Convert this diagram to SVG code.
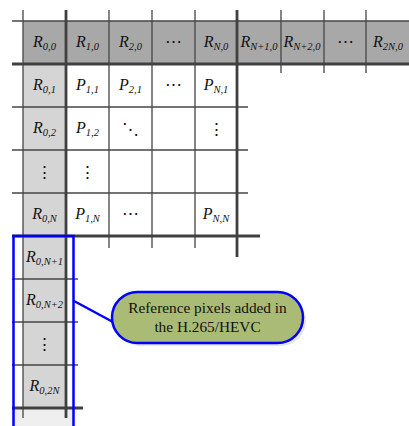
<svg xmlns="http://www.w3.org/2000/svg" width="409" height="426" viewBox="0 0 409 426">
<style>
.thin{stroke:#454545;stroke-width:1.3;fill:none}
.thick{stroke:#404040;stroke-width:2.8;fill:none}
.m{font-family:"Liberation Serif","DejaVu Serif",serif;font-style:italic;font-size:16px;fill:#111;text-anchor:middle}
.s{font-size:10.5px}
.d{font-family:"DejaVu Serif",serif;font-size:17px;fill:#111;text-anchor:middle}
.c{font-family:"Liberation Serif","Times New Roman",serif;font-size:15.3px;fill:#111;text-anchor:middle}
</style>
<rect width="409" height="426" fill="#fff"/>
<g id="fills">
<rect x="23" y="21" width="386" height="43" fill="#a8a8a8"/>
<rect x="23" y="64" width="43" height="344" fill="#d5d5d5"/>
<rect x="13" y="408" width="60" height="18" fill="#efefef"/>
</g>
<g id="grid">
<path class="thin" d="M23 10V418M109 10V248M152 10V248M195 10V248M281 10V73M324 10V73M366 10V73"/>
<path class="thin" d="M12 21H409M12 107H248M12 150H248M12 193H248M12 279H78M12 322H78M12 365H78"/>
<path class="thick" d="M66 10V418M237 10V257M12 64H409M12 236H260M12 408H83"/>
</g>
<g id="connectors">
<path d="M74 301L113 322" stroke="#0000ff" stroke-width="2.5" fill="none"/>
</g>
<g id="added-region">
<path d="M13.5 440V236H73.5V440" fill="none" stroke="#0000ff" stroke-width="2.5"/>
</g>
<g id="callout">
<rect x="115" y="295" width="191" height="51" rx="25.5" fill="#dcdcdc" opacity="0.7"/>
<rect x="112" y="292" width="191" height="51" rx="25.5" fill="#aabb76" stroke="#0000ff" stroke-width="2.5"/>
<text class="c" x="207.5" y="313">Reference pixels added in</text>
<text class="c" x="207.5" y="332">the H.265/HEVC</text>
</g>
<g id="row0">
<text class="m" x="44.5" y="47">R<tspan class="s" dy="3">0,0</tspan></text>
<text class="m" x="87.5" y="47">R<tspan class="s" dy="3">1,0</tspan></text>
<text class="m" x="130.5" y="47">R<tspan class="s" dy="3">2,0</tspan></text>
<text class="d" x="173.5" y="47">⋯</text>
<text class="m" x="216" y="47">R<tspan class="s" dy="3">N,0</tspan></text>
<text class="m" x="259" y="47">R<tspan class="s" dy="3">N+1,0</tspan></text>
<text class="m" x="302" y="47">R<tspan class="s" dy="3">N+2,0</tspan></text>
<text class="d" x="345" y="47">⋯</text>
<text class="m" x="388" y="47">R<tspan class="s" dy="3">2N,0</tspan></text>
</g>
<g id="row1">
<text class="m" x="44.5" y="90">R<tspan class="s" dy="3">0,1</tspan></text>
<text class="m" x="87.5" y="90">P<tspan class="s" dy="3">1,1</tspan></text>
<text class="m" x="130.5" y="90">P<tspan class="s" dy="3">2,1</tspan></text>
<text class="d" x="173.5" y="90">⋯</text>
<text class="m" x="216" y="90">P<tspan class="s" dy="3">N,1</tspan></text>
</g>
<g id="row2">
<text class="m" x="44.5" y="133">R<tspan class="s" dy="3">0,2</tspan></text>
<text class="m" x="87.5" y="133">P<tspan class="s" dy="3">1,2</tspan></text>
<text class="d" x="130.5" y="135">⋱</text>
<text class="d" x="216" y="135">⋮</text>
</g>
<g id="row3">
<text class="d" x="44.5" y="178">⋮</text>
<text class="d" x="87.5" y="178">⋮</text>
</g>
<g id="row4">
<text class="m" x="44.5" y="219">R<tspan class="s" dy="3">0,N</tspan></text>
<text class="m" x="87.5" y="219">P<tspan class="s" dy="3">1,N</tspan></text>
<text class="d" x="130.5" y="219">⋯</text>
<text class="m" x="216" y="219">P<tspan class="s" dy="3">N,N</tspan></text>
</g>
<g id="col0-ext">
<text class="m" x="44.5" y="262">R<tspan class="s" dy="3">0,N+1</tspan></text>
<text class="m" x="44.5" y="305">R<tspan class="s" dy="3">0,N+2</tspan></text>
<text class="d" x="44.5" y="350">⋮</text>
<text class="m" x="44.5" y="391">R<tspan class="s" dy="3">0,2N</tspan></text>
</g>
</svg>
